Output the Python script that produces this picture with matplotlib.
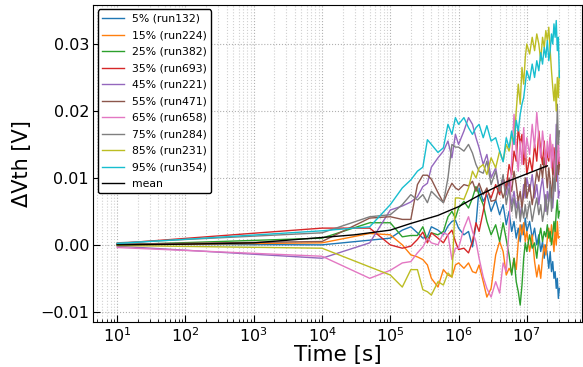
import numpy as np
import matplotlib
matplotlib.use("Agg")
import matplotlib.pyplot as plt
from matplotlib.ticker import NullFormatter

# sample times [s]
times = [10, 1e4, 5e4,
         1e5, 1.5e5, 2e5, 2.5e5, 3e5, 3.5e5, 4e5, 5e5, 6e5, 7e5, 8e5, 9e5, 1e6,
         1.2e6, 1.4e6, 1.6e6, 1.8e6, 2e6, 2.3e6, 2.6e6, 3e6, 3.5e6, 4e6, 4.5e6, 5e6,
         5.5e6, 6e6, 6.5e6, 7e6, 7.5e6, 8e6, 8.5e6, 9e6, 9.5e6, 1e7,
         1.1e7, 1.2e7, 1.3e7, 1.4e7, 1.5e7, 1.6e7, 1.7e7, 1.8e7, 1.9e7, 2e7,
         2.1e7, 2.2e7, 2.3e7, 2.4e7, 2.5e7, 2.6e7, 2.7e7, 2.8e7, 2.9e7, 3e7]

labels = ["5% (run132)", "15% (run224)", "25% (run382)", "35% (run693)",
          "45% (run221)", "55% (run471)", "65% (run658)", "75% (run284)",
          "85% (run231)", "95% (run354)"]

# values in mV
run132 = [0.1, 0.0, 0.7, 1.0, 2.2, 2.7, 1.8, 1.0, 1.2, 2.7, 2.2, 1.5, 2.8, 3.5, 3.7, 2.5,
          1.5, 2.0, -0.3, 3.0, 8.5, 6.5, 7.5, 5.0, 6.7, 4.5, 6.0, 3.0, 5.0, 2.0, 3.5, 1.0,
          2.5, 0.5, 3.0, 1.5, 4.0, 2.0,
          3.5, 1.0, 2.5, 0.0, 1.5, -1.0, 0.5, -2.0, 0.0, -1.5, -3.5, -1.0, -4.0, -2.5,
          -5.0, -4.0, -6.5, -5.0, -8.0, -6.5]
run224 = [0.0, 0.3, 1.7, 1.5, 0.0, -1.5, -1.8, -2.2, -3.0, -5.0, -6.3, -3.7, -4.5, -4.8, -3.0, -2.7,
          -3.5, -2.7, -4.0, -4.2, -3.0, -5.5, -7.8, -6.5, -1.5, 0.5, -1.0, -4.5, -3.5, -4.2, -2.0,
          -3.7, 0.5, 3.0, 1.5, 3.3, 0.5, 2.0,
          -1.0, 1.5, -2.5, -4.8, -3.0, -5.0, -2.0, 0.0, -1.5, 1.0, 2.5, 0.5, 3.0, 1.0,
          -1.0, 2.5, 0.0, 3.5, 1.0, 1.2]
run382 = [0.0, 1.0, 3.3, 3.3, 1.2, 1.4, 1.4, 2.7, 0.7, 1.8, 1.5, 2.0, 4.2, 5.0, 4.0, 5.5,
          6.5, 5.5, 7.0, 8.7, 7.5, 6.0, 3.5, 1.5, 3.0, 0.5, 3.3, 0.8, -1.5, -4.5, -2.0,
          -5.5, -7.0, -9.0, -6.0, -2.0, 0.3, -1.0,
          1.5, -0.5, 0.3, -2.0, 1.0, 2.5, 0.5, 2.0, 1.2, 3.0, 1.0, 2.0, 0.0, 1.5,
          3.5, 2.0, 5.0, 6.7, 4.0, 5.0]
run693 = [0.2, 2.5, 2.5, 0.0, -0.5, -0.2, 0.8, 1.9, 0.3, 1.8, 1.0, 0.3, 1.5, 2.2, 0.5, -0.7,
          -0.5, -1.2, 0.5, 3.3, 2.0, 5.0, 8.2, 7.0, 9.0, 7.5, 10.0, 8.5, 12.0, 10.5, 14.0,
          12.5, 17.5, 15.0, 16.5, 12.0, 14.5, 10.5,
          13.0, 11.0, 15.0, 12.5, 17.0, 14.0, 12.0, 15.5, 11.5, 14.0, 12.5, 16.0, 13.0, 10.5,
          14.5, 12.0, 9.5, 13.5, 11.0, 13.0]
run221 = [-0.2, -2.0, 0.3, 5.2, 5.8, 6.4, 7.2, 8.7, 9.2, 11.6, 13.0, 14.0, 15.5, 13.0, 16.5, 15.0,
          17.0, 19.0, 18.0, 16.0, 14.5, 12.0, 13.5, 10.0, 11.5, 8.0, 10.0, 7.5, 9.5, 6.0, 8.0,
          5.5, 7.0, 4.0, 6.5, 9.0, 7.0, 10.0,
          8.0, 10.5, 7.0, 9.0, 6.0, 8.5, 10.0, 7.5, 5.0, 8.0, 6.5, 9.5, 7.0, 5.5,
          8.5, 11.0, 18.0, 12.0, 7.0, 8.0]
run471 = [0.1, 0.5, 4.0, 4.2, 3.8, 3.8, 9.0, 10.4, 10.4, 9.8, 7.8, 6.3, 8.0, 9.2, 8.5, 8.2,
          9.0, 8.8, 9.5, 8.0, 9.2, 7.5, 8.5, 6.5, 6.7, 9.0, 7.0, 8.5, 10.0, 8.0, 11.0,
          9.0, 6.5, 8.0, 5.5, 7.5, 10.0, 7.0,
          9.0, 6.0, 8.5, 11.0, 9.5, 12.0, 10.0, 13.0, 11.0, 8.5, 11.5, 9.5, 7.0, 10.0,
          12.5, 9.0, 11.0, 14.0, 10.5, 12.0]
run658 = [-0.4, -1.7, -5.0, -3.8, -2.7, -2.5, -1.2, -0.3, 1.0, 0.3, 0.0, 1.8, 1.5, -2.2, -0.5, -0.5,
          2.5, 4.2, 2.0, 0.5, -2.0, -4.8, -6.5, -7.8, -5.5, -7.2, -2.7, -4.0, 2.5, 12.7, 19.5,
          14.0, 11.0, 15.5, 12.0, 17.5, 13.0, 16.0,
          13.5, 18.0, 14.5, 19.8, 16.0, 13.0, 17.0, 14.5, 12.0, 15.5, 13.0, 16.5, 11.5, 15.0,
          12.5, 10.0, 14.0, 12.0, 15.5, 12.5]
run284 = [0.3, 1.8, 4.2, 4.5, 6.0, 7.5, 6.7, 7.5, 6.3, 8.0, 7.0, 6.3, 10.0, 15.0, 14.6, 14.6,
          14.0, 15.0, 13.7, 12.0, 11.0, 10.7, 12.5, 9.0, 11.0, 8.0, 10.5, 6.0, 8.5, 5.0, 7.0,
          4.0, 6.5, 3.5, 5.5, 4.0, 6.0, 4.0,
          6.5, 3.5, 5.5, 7.0, 4.5, 6.0, 3.5, 5.0, 7.5, 4.5, 6.5, 9.0, 5.0, 7.0,
          10.0, 8.0, 12.5, 21.0, 15.0, 17.0]
run231 = [-0.1, -0.5, -3.3, -4.5, -6.3, -3.7, -3.7, -6.7, -7.0, -7.5, -5.5, -6.0, -4.2, -4.8, 7.0, 7.0,
          6.8, 8.5, 11.0, 10.0, 11.5, 12.0, 10.5, 13.0, 11.5, 14.0, 12.5, 15.0, 14.0, 16.5, 15.0,
          20.0, 24.0, 21.0, 26.5, 24.0, 28.0, 30.0,
          28.5, 31.0, 29.0, 31.5, 30.0, 27.5, 31.0, 29.5, 32.0, 30.5, 32.5, 29.0, 26.0, 23.5,
          21.5, 24.0, 20.0, 25.0, 22.0, 26.0]
run354 = [0.2, 2.1, 2.7, 6.0, 8.5, 9.7, 11.0, 11.6, 15.7, 15.0, 13.8, 14.5, 18.0, 16.5, 19.0, 18.0,
          19.0, 17.5, 16.5, 17.5, 18.0, 16.0, 17.8, 15.5, 16.0, 14.0, 12.4, 16.0, 14.5, 17.0, 15.0,
          18.6, 17.0, 19.5, 21.0, 22.0, 24.0, 26.0,
          24.6, 27.0, 25.0, 27.5, 26.0, 28.7, 27.0, 29.5, 28.0, 30.5, 27.5, 29.0, 31.5, 30.0,
          33.0, 31.0, 33.5, 29.0, 31.0, 25.0]

mean_times = [10, 1e2, 1e3, 1e4, 3e4, 1e5, 2e5, 5e5, 1e6, 2e6, 5e6, 1e7, 2e7]
mean_vals = [0.0, 0.1, 0.3, 1.1, 1.5, 2.2, 3.2, 4.4, 5.7, 7.4, 9.4, 10.6, 11.8]

runs = [run132, run224, run382, run693, run221, run471, run658, run284, run231, run354]

fig = plt.figure(figsize=(5.83, 3.67), dpi=100)
ax = fig.add_axes([0.16, 0.123, 0.838, 0.863])

for vals, lab in zip(runs, labels):
    ax.plot(times, np.array(vals) * 1e-3, lw=1.0, label=lab)
ax.plot(mean_times, np.array(mean_vals) * 1e-3, color='black', lw=1.0, label='mean')

ax.set_xscale('log')
ax.set_xlim(4.46, 6.4e7)
ax.set_ylim(-0.0115, 0.0358)
ax.set_yticks([-0.01, 0.0, 0.01, 0.02, 0.03])
ax.xaxis.set_minor_formatter(NullFormatter())
ax.set_xlabel('Time [s]', fontsize=15.5, labelpad=0)
ax.set_ylabel('ΔVth [V]', fontsize=15, labelpad=6)
ax.tick_params(axis='both', which='both', direction='in', labelsize=11.5, pad=3)
ax.tick_params(axis='both', which='major', length=5)
ax.tick_params(axis='both', which='minor', length=2.5)
ax.grid(True, which='major', linestyle=':', color='#b0b0b0', lw=0.8)
ax.grid(True, which='minor', axis='x', linestyle=':', color='#d0d0d0', lw=0.8)

leg = ax.legend(loc='upper left', fontsize=7.8, frameon=True, fancybox=True,
                framealpha=1.0, borderaxespad=0.4, handlelength=2.0,
                labelspacing=0.6)
leg.get_frame().set_edgecolor('black')

fig.savefig('out.png', dpi=100)
